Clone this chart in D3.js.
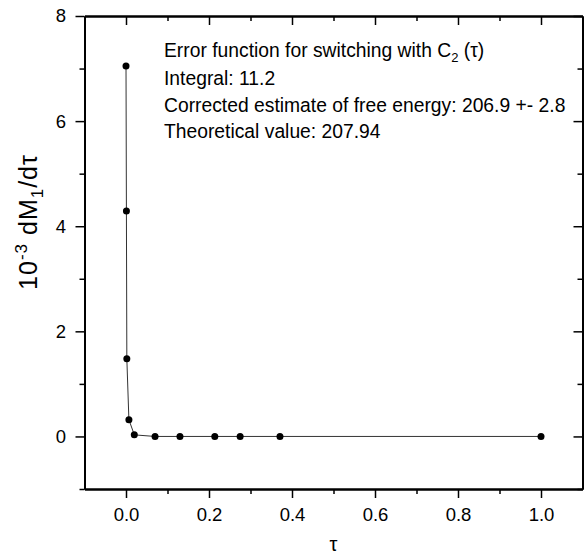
<!DOCTYPE html>
<html>
<head>
<meta charset="utf-8">
<script src="https://cdn.jsdelivr.net/npm/d3@7"></script>
<style>
  body { margin: 0; background: #fff; }
  text { font-family: "Liberation Sans", Arial, sans-serif; }
</style>
</head>
<body>
<div id="canvas"></div>
<script>
// data
const tau = [0, 0.001, 0.002, 0.007, 0.02, 0.07, 0.13, 0.214, 0.275, 0.371, 1.0];
const dMdTau = [7.05, 4.29, 1.48, 0.32, 0.03, 0.0, 0.0, 0.0, 0.0, 0.0, 0.0];

const xMajor = [0, 0.2, 0.4, 0.6, 0.8, 1.0];
const xMinor = [0.1, 0.3, 0.5, 0.7, 0.9];
const yMajor = [0, 2, 4, 6, 8];
const yMinor = [-1, 1, 3, 5, 7];

const notes = [
    "Integral: 11.2",
    "Corrected estimate of free energy: 206.9 +- 2.8",
    "Theoretical value: 207.94"
];

// dimensions
const width = 584;
const height = 554;
const margins = {top: 16, right: 1.5, bottom: 65, left: 84.5};
const dataWidth = width - margins.left - margins.right;
const dataHeight = height - margins.top - margins.bottom;

const majorLen = 9;
const minorLen = 5;

var svg = d3.select("#canvas").append("svg")
    .attr("width", width)
    .attr("height", height);

var dataArea = svg.append("g")
    .attr("transform", `translate(${margins.left}, ${margins.top})`);

var x = d3.scaleLinear().domain([-0.1, 1.1]).range([0, dataWidth]);
var y = d3.scaleLinear().domain([-1, 8]).range([dataHeight, 0]);

// draws one axis: major ticks (maybe labelled) and minor ticks
function drawAxis(axisFn, scale, transform, sign, opts, fmt) {
    var gMaj = dataArea.append("g").attr("transform", transform)
        .call(axisFn(scale).tickValues(opts.major)
            .tickSizeInner(sign * majorLen).tickSizeOuter(0)
            .tickPadding(opts.pad)
            .tickFormat(fmt));
    var gMin = dataArea.append("g").attr("transform", transform)
        .call(axisFn(scale).tickValues(opts.minor)
            .tickSizeInner(sign * minorLen).tickSizeOuter(0).tickFormat(""));
    [gMaj, gMin].forEach(function(g) {
        g.select(".domain").attr("stroke-width", 2);
        g.selectAll(".tick line").attr("stroke-width", 1.5);
        g.selectAll("text").attr("font-size", 18.5).attr("fill", "#000")
            .attr("font-family", "Liberation Sans, Arial, sans-serif");
    });
    if (!opts.show) gMaj.selectAll("text").remove();
}

var fmtX = d3.format(".1f");
var fmtY = d3.format("d");

// bottom and left: outward ticks with labels
drawAxis(d3.axisBottom, x, `translate(0, ${dataHeight})`, 1,
    {major: xMajor, minor: xMinor, pad: 10, show: true}, fmtX);
drawAxis(d3.axisLeft, y, "translate(0, 0)", 1,
    {major: yMajor, minor: yMinor, pad: 9.5, show: true}, fmtY);
// top and right: inward ticks, no labels
drawAxis(d3.axisTop, x, "translate(0, 0)", -1,
    {major: xMajor, minor: xMinor, pad: 0, show: false}, fmtX);
drawAxis(d3.axisRight, y, `translate(${dataWidth}, 0)`, -1,
    {major: yMajor, minor: yMinor, pad: 0, show: false}, fmtY);

// the curve
var points = tau.map(function(t, i) { return {t: t, v: dMdTau[i]}; });

dataArea.append("path")
    .datum(points)
    .attr("fill", "none")
    .attr("stroke", "#333")
    .attr("stroke-width", 1)
    .attr("d", d3.line()
        .x(function(d) { return x(d.t); })
        .y(function(d) { return y(d.v); }));

dataArea.selectAll(".dot")
    .data(points)
    .enter().append("circle")
    .attr("class", "dot")
    .attr("cx", function(d) { return x(d.t); })
    .attr("cy", function(d) { return y(d.v); })
    .attr("r", 3.5)
    .attr("fill", "#000");

// annotation
var note = svg.append("g")
    .attr("font-size", 19.3)
    .attr("fill", "#000");
var head = note.append("text").attr("x", 164).attr("y", 57);
head.append("tspan").text("Error function for switching with C");
head.append("tspan").attr("font-size", 13).attr("dy", 5).text("2");
head.append("tspan").attr("dy", -5).text(" (τ)");
note.selectAll(".line")
    .data(notes)
    .enter().append("text")
    .attr("class", "line")
    .attr("x", 164)
    .attr("y", function(d, i) { return 85 + i * 26.7; })
    .text(function(d) { return d; });

// Y axis label
var yl = svg.append("text")
    .attr("text-anchor", "middle")
    .attr("font-size", 25)
    .attr("letter-spacing", 1)
    .attr("transform", "translate(37, 222) rotate(-90)");
yl.append("tspan").text("10");
yl.append("tspan").attr("font-size", 17).attr("dy", -10).text("-3");
yl.append("tspan").attr("dy", 10).text(" dM");
yl.append("tspan").attr("font-size", 17).attr("dy", 6).text("1");
yl.append("tspan").attr("dy", -6).text("/dτ");

// X axis label
svg.append("text")
    .attr("text-anchor", "middle")
    .attr("font-family", "Liberation Serif, Times New Roman, serif")
    .attr("font-size", 20)
    .attr("x", x(0.5) + margins.left)
    .attr("y", 551)
    .text("τ");
</script>
</body>
</html>
